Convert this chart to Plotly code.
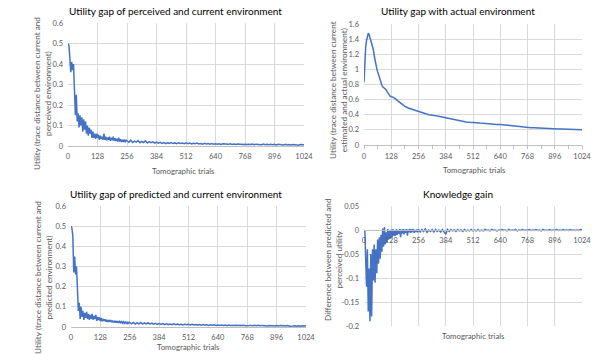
import plotly.graph_objects as go

# ejes de ensayos (índices de los ensayos tomográficos)
trials_fine = list(range(0, 256, 4))
trials_tail = list(range(256, 1025, 8))
trials_fine_b = list(range(0, 128, 4))
trials_tail_b = list(range(128, 1025, 16))

x_ticks = [0, 128, 256, 384, 512, 640, 768, 896, 1024]

# Utility gap of perceived and current environment
perceived_early = [
    0.50, 0.49, 0.43, 0.36, 0.41, 0.37, 0.40, 0.22, 0.15, 0.25, 0.12, 0.16,
    0.09, 0.15, 0.10, 0.14, 0.07, 0.13, 0.08, 0.12, 0.06, 0.10, 0.05, 0.09,
    0.06, 0.08, 0.04, 0.07, 0.04, 0.06, 0.035, 0.06, 0.04, 0.055, 0.03, 0.05,
    0.035, 0.045, 0.03, 0.06, 0.03, 0.045, 0.028, 0.042, 0.03, 0.045, 0.025, 0.04,
    0.028, 0.045, 0.025, 0.038, 0.024, 0.035, 0.022, 0.04, 0.022, 0.033, 0.02, 0.03,
    0.02, 0.032, 0.018, 0.028,
]
perceived_tail = [
    0.026, 0.018, 0.028, 0.017, 0.024, 0.019, 0.027, 0.016, 0.022, 0.017, 0.025, 0.015, 0.021, 0.016, 0.02, 0.014, 0.019,
    0.014, 0.018, 0.013, 0.017, 0.012, 0.016, 0.013, 0.017, 0.012, 0.015, 0.011, 0.016, 0.012, 0.014, 0.011, 0.015,
    0.011, 0.014, 0.010, 0.013, 0.011, 0.014, 0.010, 0.012, 0.009, 0.013, 0.010, 0.012, 0.009, 0.012, 0.009, 0.011,
    0.009, 0.011, 0.008, 0.011, 0.009, 0.010, 0.008, 0.011, 0.008, 0.010, 0.007, 0.010, 0.008, 0.009, 0.007, 0.009,
    0.007, 0.009, 0.007, 0.009, 0.006, 0.009, 0.007, 0.008, 0.006, 0.009, 0.006, 0.008, 0.006, 0.008, 0.006, 0.008,
    0.005, 0.008, 0.006, 0.007, 0.005, 0.008, 0.005, 0.007, 0.005, 0.007, 0.005, 0.006, 0.004, 0.007, 0.005, 0.006,
]

# Utility gap with actual environment
actual_early = [
    0.83, 1.15, 1.30, 1.38, 1.45, 1.48, 1.46, 1.42, 1.38, 1.33, 1.29, 1.26,
    1.18, 1.11, 1.06, 1.01, 0.97, 0.93, 0.89, 0.86, 0.82, 0.79, 0.77, 0.76,
    0.76, 0.75, 0.73, 0.71, 0.69, 0.67, 0.65, 0.64,
]
actual_tail = [
    0.64, 0.62, 0.58, 0.54, 0.51, 0.49, 0.475, 0.46, 0.45, 0.43, 0.41, 0.40,
    0.395, 0.39, 0.38, 0.37, 0.36, 0.35, 0.34, 0.335, 0.33, 0.315, 0.305, 0.30,
    0.30, 0.295, 0.29, 0.285, 0.285, 0.28, 0.275, 0.272, 0.27, 0.265, 0.258, 0.25,
    0.245, 0.24, 0.235, 0.232, 0.23, 0.229, 0.228, 0.227, 0.225, 0.22, 0.218, 0.215,
    0.213, 0.212, 0.21, 0.21, 0.208, 0.206, 0.204, 0.202, 0.20,
]

# Utility gap of predicted and current environment
predicted_early = [
    0.50, 0.49, 0.45, 0.27, 0.35, 0.26, 0.30, 0.17, 0.08, 0.12, 0.04, 0.10,
    0.05, 0.08, 0.035, 0.07, 0.045, 0.075, 0.04, 0.065, 0.035, 0.06, 0.04, 0.065,
    0.035, 0.055, 0.04, 0.06, 0.03, 0.05, 0.035, 0.048, 0.03, 0.045, 0.028, 0.04,
    0.03, 0.038, 0.026, 0.036, 0.025, 0.034, 0.026, 0.035, 0.024, 0.032, 0.023, 0.031,
    0.022, 0.03, 0.021, 0.029, 0.02, 0.028, 0.021, 0.027, 0.019, 0.026, 0.018, 0.025,
    0.018, 0.024, 0.017, 0.023,
]
predicted_tail = [
    0.022, 0.016, 0.023, 0.015, 0.021, 0.016, 0.022, 0.014, 0.02, 0.015, 0.021, 0.014, 0.019, 0.014, 0.018, 0.013, 0.017,
    0.013, 0.017, 0.012, 0.016, 0.012, 0.015, 0.011, 0.016, 0.011, 0.015, 0.011, 0.014, 0.010, 0.014, 0.011, 0.013,
    0.010, 0.013, 0.010, 0.012, 0.009, 0.012, 0.009, 0.012, 0.009, 0.011, 0.008, 0.011, 0.009, 0.011, 0.008, 0.010,
    0.008, 0.010, 0.008, 0.010, 0.007, 0.010, 0.008, 0.009, 0.007, 0.009, 0.007, 0.009, 0.007, 0.009, 0.006, 0.008,
    0.007, 0.008, 0.006, 0.008, 0.006, 0.008, 0.006, 0.008, 0.006, 0.007, 0.005, 0.007, 0.006, 0.007, 0.005, 0.007,
    0.005, 0.007, 0.005, 0.006, 0.005, 0.007, 0.004, 0.006, 0.005, 0.006, 0.004, 0.006, 0.004, 0.006, 0.004, 0.005,
]

# Knowledge gain
gain_early = [
    0.0, -0.002, -0.06, -0.118, -0.04, -0.17, -0.08, -0.19, -0.05, -0.18, -0.04, -0.105,
    -0.03, -0.11, -0.04, -0.09, -0.02, -0.07, -0.015, -0.06, -0.01, -0.045, 0.003, -0.035,
    0.006, -0.03, -0.005, -0.025, 0.002, -0.02, -0.002, -0.018, 0.001, -0.015, 0.002, -0.012,
    -0.001, -0.012, 0.002, -0.01, 0.0, -0.008, 0.002, -0.015, 0.001, -0.007, 0.002, -0.009,
    0.001, -0.006, 0.002, -0.012, 0.001, -0.005, 0.002, -0.006, 0.001, -0.004, 0.002, -0.006,
    0.0, -0.004, 0.001, -0.005,
]
gain_tail = [
    0.001, -0.004, 0.001, -0.003, 0.002, -0.005, 0.0, -0.003, 0.001, -0.004, 0.001, -0.003, 0.0, -0.004, 0.001, -0.003, -0.009,
    0.001, -0.003, 0.001, -0.002, 0.0, -0.003, 0.001, -0.002, 0.0, -0.003, 0.001, -0.002, 0.0, -0.002, 0.001, -0.002,
    0.0, -0.002, 0.001, -0.002, 0.0, -0.002, 0.001, -0.001, 0.0, -0.002, 0.001, -0.001, 0.0, -0.002, 0.0, -0.001,
    0.001, -0.001, 0.0, -0.002, 0.001, -0.001, 0.0, -0.001, 0.001, -0.002, 0.0, -0.001, 0.001, -0.001, 0.0, -0.001,
    0.001, -0.001, 0.0, -0.001, 0.001, -0.001, 0.0, -0.002, 0.001, -0.001, 0.0, -0.001, 0.001, -0.001, 0.0, -0.001,
    0.001, -0.001, 0.0, -0.001, 0.001, -0.001, 0.0, -0.001, 0.001, -0.001, 0.0, -0.001, 0.0, -0.001, 0.001, 0.0,
]

LINE = '#4472C4'
GRID = '#D9D9D9'
TXT = '#595959'
FONT = 'Lato'

fig = go.Figure()

series = [
    (trials_fine + trials_tail, perceived_early + perceived_tail, 'x', 'y'),
    (trials_fine_b + trials_tail_b, actual_early + actual_tail, 'x2', 'y2'),
    (trials_fine + trials_tail, predicted_early + predicted_tail, 'x3', 'y3'),
    (trials_fine + trials_tail, gain_early + gain_tail, 'x4', 'y4'),
]
for xs, ys, xa, ya in series:
    fig.add_trace(go.Scatter(x=xs, y=ys, xaxis=xa, yaxis=ya, mode='lines',
                             line=dict(color=LINE, width=1.5), showlegend=False,
                             hoverinfo='skip'))

W, H = 592, 354

def px_x(p):
    return p / W

def px_y(p):
    return 1 - p / H

tick_font = dict(family=FONT, size=7.5, color=TXT)

def x_axis(d, anchor, **kw):
    base = dict(domain=d, anchor=anchor, range=[0, 1024], tickvals=x_ticks,
                showgrid=True, gridcolor=GRID, gridwidth=1, zeroline=False,
                showline=True, linecolor='#BFBFBF', linewidth=1, automargin=False,
                ticks='', tickfont=tick_font, ticklabelstandoff=3)
    base.update(kw)
    return base

def y_axis(d, anchor, rng, vals, texts):
    return dict(domain=d, anchor=anchor, range=rng, tickvals=vals, ticktext=texts,
                showgrid=True, gridcolor=GRID, gridwidth=1, zeroline=False,
                showline=False, automargin=False, ticks='', tickfont=tick_font,
                ticklabelstandoff=4)

d1x = [px_x(68), px_x(304)]
d1y = [px_y(146), px_y(23)]
d2x = [px_x(364), px_x(582)]
d2y = [px_y(145), px_y(24)]
d3x = [px_x(71), px_x(306)]
d3y = [px_y(327), px_y(206)]
d4x = [px_x(364), px_x(582)]
d4y = [px_y(326), px_y(206)]

ticks_06 = [0, 0.1, 0.2, 0.3, 0.4, 0.5, 0.6]
labels_06 = ['0', '0.1', '0.2', '0.3', '0.4', '0.5', '0.6']
ticks_16 = [0, 0.2, 0.4, 0.6, 0.8, 1.0, 1.2, 1.4, 1.6]
labels_16 = ['0', '0.2', '0.4', '0.6', '0.8', '1', '1.2', '1.4', '1.6']
ticks_kg = [-0.2, -0.15, -0.1, -0.05, 0, 0.05]
labels_kg = ['-0.2', '-0.15', '-0.1', '-0.05', '0', '0.05']

fig.update_layout(
    width=W, height=H,
    margin=dict(l=0, r=0, t=0, b=0, autoexpand=False),
    paper_bgcolor='white', plot_bgcolor='white',
    font=dict(family=FONT, color=TXT),
    hovermode=False,
    xaxis=x_axis(d1x, 'y'),
    yaxis=y_axis(d1y, 'x', [0, 0.6], ticks_06, labels_06),
    xaxis2=x_axis(d2x, 'y2', ticks='outside', ticklen=3, tickcolor='#BFBFBF',
                  ticklabelstandoff=1,
                  minor=dict(ticks='outside', ticklen=3, tickcolor='#BFBFBF', dtick=64,
                             tick0=0, showgrid=False)),
    yaxis2=y_axis(d2y, 'x2', [0, 1.6], ticks_16, labels_16),
    xaxis3=x_axis(d3x, 'y3'),
    yaxis3=y_axis(d3y, 'x3', [0, 0.6], ticks_06, labels_06),
    xaxis4=x_axis(d4x, 'free', position=px_y(230)),
    yaxis4=y_axis(d4y, 'x4', [-0.2, 0.05], ticks_kg, labels_kg),
)

titles = [
    ('Utility gap of perceived and current environment', 175, 11),
    ('Utility gap with actual environment', 458, 11),
    ('Utility gap of predicted and current environment', 176, 194),
    ('Knowledge gain', 458, 194),
]
for text, cx, cy in titles:
    fig.add_annotation(text=text, x=px_x(cx), y=px_y(cy), xref='paper', yref='paper',
                       showarrow=False, xanchor='center', yanchor='middle',
                       font=dict(family=FONT, size=10, color='#000000'))

x_titles = [(183, 171), (474, 170), (188, 347), (473, 336)]
for cx, cy in x_titles:
    fig.add_annotation(text='Tomographic trials', x=px_x(cx), y=px_y(cy),
                       xref='paper', yref='paper', showarrow=False,
                       xanchor='center', yanchor='middle',
                       font=dict(family=FONT, size=7.8, color=TXT))

y_titles = [
    ('Utility (trace distance between current and<br>perceived environment)', 43, 93),
    ('Utility (trace distance between current<br>estimated and actual environment)', 338, 90),
    ('Utility (trace distance between current and<br>predicted environment)', 43, 277),
    ('Difference between predicted and<br>perceived utility', 333, 260),
]
for text, cx, cy in y_titles:
    fig.add_annotation(text=text, x=px_x(cx), y=px_y(cy), xref='paper', yref='paper',
                       showarrow=False, xanchor='center', yanchor='middle', textangle=-90,
                       font=dict(family=FONT, size=8.2, color=TXT))

# quitar el margen por defecto del body para que la figura ocupe toda la ventana
fig.write_html("out.html", config={'displayModeBar': False},
               post_script="document.body.style.margin='0';")
